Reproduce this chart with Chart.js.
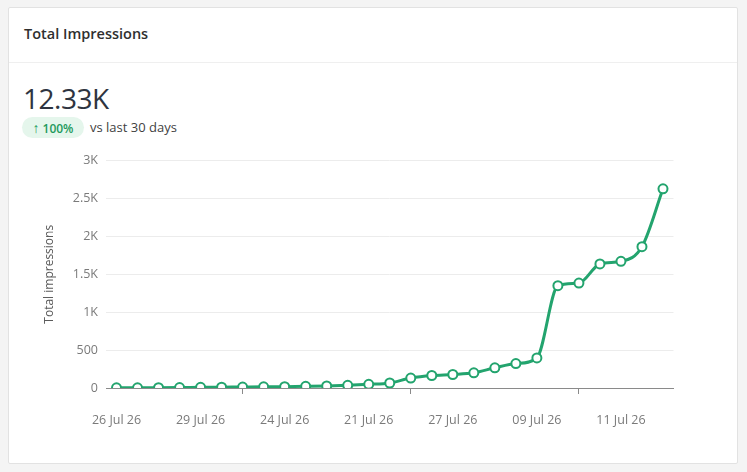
<!DOCTYPE html>
<html>
<head>
<meta charset="utf-8">
<script src="https://cdn.jsdelivr.net/npm/chart.js@4.4.0/dist/chart.umd.min.js"></script>
<style>
  html, body { margin: 0; padding: 0; }
  body { width: 747px; height: 472px; background: #f4f4f4; position: relative; overflow: hidden; font-family: "Open Sans", "Noto Sans", sans-serif; }
  .card { position: absolute; left: 8px; top: 7px; width: 728px; height: 455px; background: #fff; border: 1px solid #e2e2e2; border-radius: 2px; }
  .header { position: absolute; left: 0; top: 0; width: 728px; height: 54px; border-bottom: 1px solid #efefef; }
  .header span { position: absolute; left: 15px; top: 16px; font-size: 14.5px; font-weight: 600; color: #2f2f2f; }
  .big { position: absolute; left: 23px; top: 80px; font-size: 28px; color: #2e3440; line-height: 36px; letter-spacing: -0.5px; }
  .badge { position: absolute; left: 22px; top: 117px; width: 62px; height: 21px; border-radius: 11px; background: #e5f6ec; color: #1f9a5c; font-size: 12px; font-weight: 600; line-height: 21px; text-align: center; }
  .badge b { font-size: 14px; font-weight: 600; margin-right: 3px; }
  .vs { position: absolute; left: 90px; top: 118px; font-size: 13px; color: #3f3f3f; line-height: 19px; }
  #c { position: absolute; left: 30px; top: 145px; }
</style>
</head>
<body>
<div class="card">
  <div class="header"><span>Total Impressions</span></div>
</div>
<div class="big">12.33K</div>
<div class="badge"><b>↑</b>100%</div>
<div class="vs">vs last 30 days</div>
<canvas id="c" width="650" height="302"></canvas>
<script>
const categories = [
  "26 Jul 26", "", "", "",
  "29 Jul 26", "", "", "",
  "24 Jul 26", "", "", "",
  "21 Jul 26", "", "", "",
  "27 Jul 26", "", "", "",
  "09 Jul 26", "", "", "",
  "11 Jul 26", "", ""
];
const impressions = [
  2, 3, 4, 6, 9, 11, 13, 15, 18, 22, 27, 35, 48,
  66, 131, 165, 178, 200, 266, 322, 396,
  1349, 1384, 1636, 1670, 1863, 2626
];
const yTickValues = [0, 500, 1000, 1500, 2000, 2500, 3000];
const yTickLabels = ["0", "500", "1K", "1.5K", "2K", "2.5K", "3K"];
const seriesName = "Total impressions";

const green = "#23a46e";
const tickFont = { family: "'Open Sans', 'Noto Sans', sans-serif", size: 12.5 };
new Chart(document.getElementById("c"), {
  type: "line",
  data: {
    labels: categories,
    datasets: [{
      label: seriesName,
      data: impressions,
      borderColor: green,
      borderWidth: 3,
      backgroundColor: "#ffffff",
      pointBackgroundColor: "#ffffff",
      pointBorderColor: green,
      pointBorderWidth: 2,
      pointRadius: 4.5,
      cubicInterpolationMode: "monotone",
      fill: false
    }]
  },
  options: {
    responsive: false,
    animation: false,
    devicePixelRatio: 1,
    layout: { padding: { top: 14, right: 0, bottom: 0, left: 0 } },
    plugins: { legend: { display: false }, tooltip: { enabled: false } },
    scales: {
      x: {
        offset: true,
        grid: { offset: true, drawOnChartArea: false, drawTicks: true, tickLength: 6, color: "#8a8a8a" },
        border: { display: true, color: "#8a8a8a", width: 1 },
        ticks: {
          autoSkip: true, maxTicksLimit: 7, maxRotation: 0, minRotation: 0,
          padding: 19, color: "#7a7a7a", font: tickFont
        }
      },
      y: {
        min: 0, max: 3000,
        afterFit: (s) => { s.width = 76; },
        afterBuildTicks: (s) => { s.ticks = yTickValues.map(v => ({ value: v })); },
        grid: { drawTicks: false, color: "#ececec" },
        border: { display: false },
        ticks: {
          padding: 8, color: "#7a7a7a", font: tickFont,
          callback: (v) => { const i = yTickValues.indexOf(v); return i >= 0 ? yTickLabels[i] : ""; }
        },
        title: {
          display: true, text: seriesName, color: "#5a5a5a",
          padding: { top: 12, bottom: 0 },
          font: { family: "'Open Sans', 'Noto Sans', sans-serif", size: 12 }
        }
      }
    }
  }
});
</script>
</body>
</html>
